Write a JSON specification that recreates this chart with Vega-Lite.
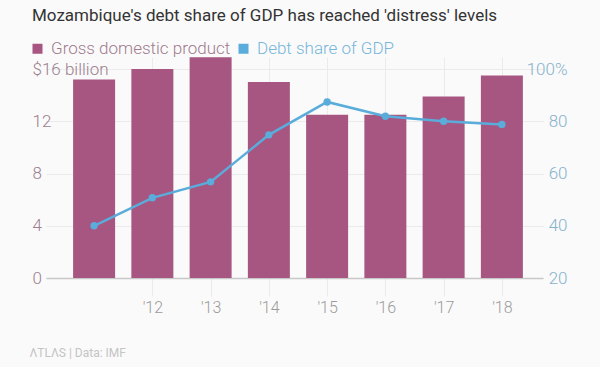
{
  "$schema": "https://vega.github.io/schema/vega-lite/v6.json",
  "width": 497,
  "height": 221,
  "autosize": "none",
  "padding": {"left": 46, "top": 57, "right": 57, "bottom": 89},
  "background": "#fafafa",
  "title": {
    "text": "Mozambique's debt share of GDP has reached 'distress' levels",
    "anchor": "start",
    "frame": "group",
    "dx": -14,
    "offset": 15,
    "font": "Roboto",
    "fontSize": 17,
    "fontWeight": "normal",
    "color": "#333333"
  },
  "config": {
    "view": {"stroke": null},
    "font": "Roboto"
  },
  "data": {
    "values": [
      {"year": 2011, "gdp": 15.2, "debt": 40.0},
      {"year": 2012, "gdp": 16.0, "debt": 50.7},
      {"year": 2013, "gdp": 16.9, "debt": 56.8},
      {"year": 2014, "gdp": 15.0, "debt": 74.8},
      {"year": 2015, "gdp": 12.5, "debt": 87.4},
      {"year": 2016, "gdp": 12.5, "debt": 81.9},
      {"year": 2017, "gdp": 13.9, "debt": 80.0},
      {"year": 2018, "gdp": 15.5, "debt": 78.8}
    ]
  },
  "encoding": {
    "x": {
      "field": "year",
      "type": "quantitative",
      "scale": {"domain": [2010.26, 2018.62], "nice": false, "zero": false},
      "axis": {
        "values": [2012, 2013, 2014, 2015, 2016, 2017, 2018],
        "labelExpr": "\"'\" + substring(toString(datum.value), 2, 4)",
        "grid": true,
        "gridColor": "#ebebeb",
        "domainColor": "#c8c8c8",
        "domainWidth": 1.5,
        "tickColor": "#ebebeb",
        "tickSize": 18,
        "labelPadding": 3,
        "labelFont": "Roboto",
        "labelFontWeight": 300,
        "labelFontSize": 16,
        "labelColor": "#9a9a9a",
        "title": "ΛTLΛS  |  Data: IMF",
        "titleFont": "Roboto",
        "titleFontSize": 12,
        "titleFontWeight": "normal",
        "titleColor": "#c4c4c4",
        "titleAnchor": "start",
        "titleX": -17,
        "titleY": 74,
        "titleBaseline": "middle"
      }
    }
  },
  "layer": [
    {
      "mark": {"type": "bar", "size": 42, "color": "#a75581"},
      "encoding": {
        "y": {
          "field": "gdp",
          "type": "quantitative",
          "scale": {"domain": [0, 16.92], "nice": false},
          "axis": {
            "values": [0, 4, 8, 12, 16],
            "labelExpr": "datum.value == 16 ? '$16 billion' : datum.label",
            "grid": true,
            "gridColor": "#ebebeb",
            "domain": false,
            "ticks": false,
            "labelAlign": "left",
            "labelPadding": 14,
            "labelFont": "Roboto",
            "labelFontWeight": 300,
            "labelFontSize": 17,
            "labelColor": "#9c7f8e",
            "title": null
          }
        },
        "color": {
          "datum": "Gross domestic product",
          "type": "nominal",
          "scale": {
            "domain": ["Gross domestic product", "Debt share of GDP"],
            "range": ["#a75581", "#5aacdb"]
          },
          "legend": {
            "title": null,
            "orient": "none",
            "direction": "horizontal",
            "legendX": -17,
            "legendY": -17,
            "symbolType": "square",
            "symbolSize": 100,
            "symbolOpacity": 1,
            "labelFont": "Roboto",
            "labelFontWeight": 300,
            "labelFontSize": 17,
            "labelLimit": 0,
            "columnPadding": 4,
            "labelOffset": 5,
            "encode": {
              "symbols": {"update": {"fill": {"scale": "color", "field": "value"}, "strokeWidth": {"value": 0}}},
              "labels": {"update": {"fill": {"signal": "datum.value === 'Gross domestic product' ? '#a07a8e' : '#76b6da'"}}}
            }
          }
        }
      }
    },
    {
      "mark": {"type": "line", "strokeWidth": 2.5, "point": {"filled": true, "size": 55}},
      "encoding": {
        "y": {
          "field": "debt",
          "type": "quantitative",
          "scale": {"domain": [20, 104.6], "nice": false, "zero": false},
          "axis": {
            "orient": "right",
            "values": [20, 40, 60, 80, 100],
            "labelExpr": "datum.value == 100 ? '100%' : datum.label",
            "grid": false,
            "domain": false,
            "ticks": false,
            "labelAlign": "right",
            "labelPadding": 24,
            "labelFont": "Roboto",
            "labelFontWeight": 300,
            "labelFontSize": 17,
            "labelColor": "#86b2cc",
            "title": null
          }
        },
        "color": {"datum": "Debt share of GDP", "type": "nominal"}
      }
    }
  ],
  "resolve": {"scale": {"y": "independent"}}
}
